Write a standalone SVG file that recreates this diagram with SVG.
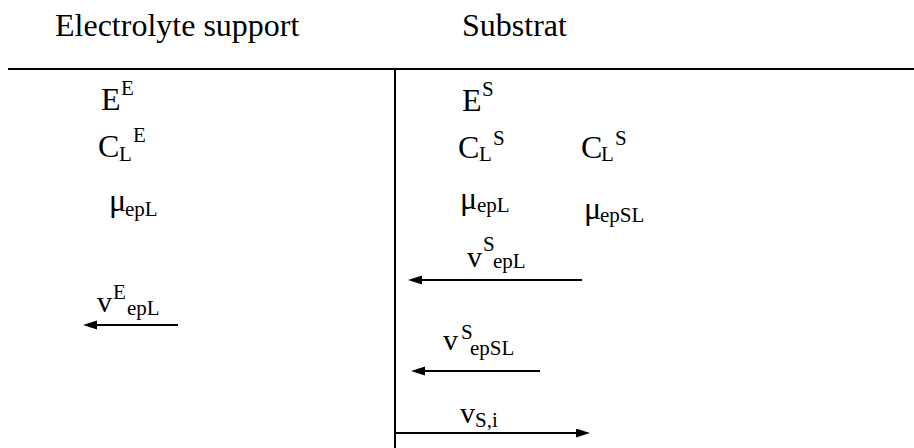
<svg xmlns="http://www.w3.org/2000/svg" width="914" height="448" viewBox="0 0 914 448" font-family="'Liberation Serif', 'Times New Roman', Times, 'DejaVu Serif', serif">
  <style>
    text { font-family: "Liberation Serif", "Times New Roman", Times, "DejaVu Serif", serif; fill: #000; }
    .h { font-size: 32px; }
    .m { font-size: 32px; }
    .v { font-size: 30px; }
    .mu { font-size: 32px; }
    .s { font-size: 21px; }
    .ln { stroke: #000; stroke-width: 2; fill: none; }
    .ar { stroke: #000; stroke-width: 2; fill: none; marker-end: url(#ah); }
  </style>
  <defs>
    <marker id="ah" markerUnits="userSpaceOnUse" markerWidth="14" markerHeight="10" refX="7" refY="4.5" orient="auto">
      <path d="M0,0 L14,4.5 L0,9 Z" fill="#000"/>
    </marker>
  </defs>
  <rect width="914" height="448" fill="#fff"/>

  <g id="frame">
    <line class="ln" x1="8" y1="69" x2="914" y2="69"/>
    <line class="ln" x1="395" y1="69" x2="395" y2="448"/>
  </g>

  <g id="heading-electrolyte"><text class="h" x="55" y="36">Electrolyte support</text></g>
  <g id="heading-substrat"><text class="h" x="462" y="36">Substrat</text></g>

  <g id="E-E">
    <text class="m" x="101" y="110">E</text>
    <text class="s" x="121" y="95">E</text>
  </g>
  <g id="C-L-E">
    <text class="m" x="98" y="157">C</text>
    <text class="s" x="119" y="161">L</text>
    <text class="s" x="133" y="142">E</text>
  </g>
  <g id="mu-epL-E">
    <text class="mu" x="109" y="211">μ</text>
    <text class="s" x="125" y="216">epL</text>
  </g>
  <g id="v-E-epL">
    <text class="v" x="97" y="312">v</text>
    <text class="s" x="113" y="299">E</text>
    <text class="s" x="127" y="315">epL</text>
  </g>

  <g id="E-S">
    <text class="m" x="462" y="111">E</text>
    <text class="s" x="482" y="96">S</text>
  </g>
  <g id="C-L-S-1">
    <text class="m" x="458" y="158">C</text>
    <text class="s" x="479" y="161">L</text>
    <text class="s" x="493" y="145">S</text>
  </g>
  <g id="C-L-S-2">
    <text class="m" x="581" y="158">C</text>
    <text class="s" x="601" y="161">L</text>
    <text class="s" x="615" y="145">S</text>
  </g>
  <g id="mu-epL-S">
    <text class="mu" x="460" y="209">μ</text>
    <text class="s" x="477" y="212">epL</text>
  </g>
  <g id="mu-epSL">
    <text class="mu" x="584" y="219">μ</text>
    <text class="s" x="600" y="222">epSL</text>
  </g>
  <g id="v-S-epL">
    <text class="v" x="467" y="267">v</text>
    <text class="s" x="483" y="251">S</text>
    <text class="s" x="493" y="268">epL</text>
  </g>
  <g id="v-S-epSL">
    <text class="v" x="443" y="350">v</text>
    <text class="s" x="461" y="339">S</text>
    <text class="s" x="470" y="355">epSL</text>
  </g>
  <g id="v-S-i">
    <text class="v" x="460" y="423">v</text>
    <text class="s" x="475" y="427">S,i</text>
  </g>

  <g id="connectors">
    <line class="ar" x1="178" y1="325" x2="90" y2="325"/>
    <line class="ar" x1="582" y1="280" x2="415" y2="280"/>
    <line class="ar" x1="540" y1="371" x2="418" y2="371"/>
    <line class="ar" x1="395" y1="433" x2="583" y2="433"/>
  </g>
</svg>
